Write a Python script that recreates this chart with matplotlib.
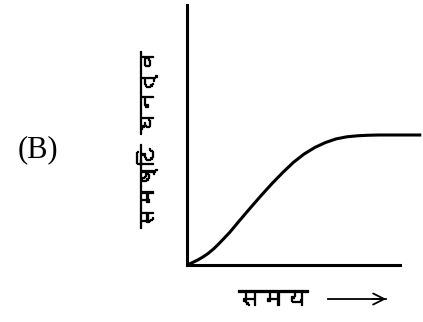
import numpy as np
import matplotlib.pyplot as plt
from matplotlib import font_manager
from matplotlib import patheffects as pe
from matplotlib.ft2font import FT2Font

# courbe de croissance (sigmoide)
temps = [0, 0.25, 0.5, 0.75, 1, 1.25, 1.5, 2, 2.5, 3, 3.5, 4, 4.5, 5, 5.5,
         6, 6.5, 7, 7.5, 8, 8.5, 9, 9.5, 10, 10.5, 11]
densite = [0, 0.09, 0.19, 0.31, 0.45, 0.62, 0.82, 1.25, 1.74, 2.22, 2.69, 3.14,
           3.56, 3.95, 4.27, 4.52, 4.71, 4.85, 4.93, 4.97, 4.99, 5.0, 5.0,
           5.0, 5.0, 5.0]

label_y = "समष्टि घनत्व"
label_x = "समय"
label_panel = "(B)"


def police_devanagari():
    """cherche une police installee qui a les glyphes devanagari"""
    for f in font_manager.fontManager.ttflist:
        try:
            cmap = FT2Font(f.fname).get_charmap()
        except Exception:
            continue
        if 0x0938 in cmap and 0x092F in cmap:
            return f.name
    return None


nom = police_devanagari()
familles = [nom, "DejaVu Sans"] if nom else ["DejaVu Sans"]
gras = [pe.withStroke(linewidth=0.9, foreground="black")]

fig = plt.figure(figsize=(4.23, 3.22), dpi=100)
W, H = 423, 322
x0, y0 = 187, 265
ax = fig.add_axes([x0 / W, (H - y0) / H, (W - x0) / W, (y0 - 5) / H])
ax.set_xlim(0, 236 / 21.3)
ax.set_ylim(0, 10)

ax.plot(temps, densite, color="black", lw=2.2, solid_capstyle="butt", clip_on=False)

for s in ["top", "right"]:
    ax.spines[s].set_visible(False)
ax.spines["left"].set_linewidth(2.2)
ax.spines["bottom"].set_linewidth(2.2)
ax.spines["bottom"].set_bounds(0, 10)
ax.set_xticks([])
ax.set_yticks([])
ax.patch.set_visible(False)

fig.text(147 / W, 1 - 139 / H, label_y, rotation=90, ha="center", va="center",
         fontsize=15, family=familles, path_effects=gras)
fig.text(38 / W, 1 - 150 / H, label_panel, ha="center", va="center",
         fontsize=22, family="Liberation Serif")
fig.text(273 / W, 1 - 300 / H, label_x, ha="center", va="center",
         fontsize=17, family=familles, path_effects=gras)
fig.add_artist(plt.Line2D([328 / W, 386 / W], [1 - 299 / H, 1 - 299 / H],
                          color="black", lw=1.3))
ax.annotate("", xy=(389 / W, 1 - 299 / H), xytext=(370 / W, 1 - 299 / H),
            xycoords="figure fraction",
            arrowprops=dict(arrowstyle="->", color="black", lw=1.3,
                            mutation_scale=20))

fig.savefig("out.png", dpi=100)
